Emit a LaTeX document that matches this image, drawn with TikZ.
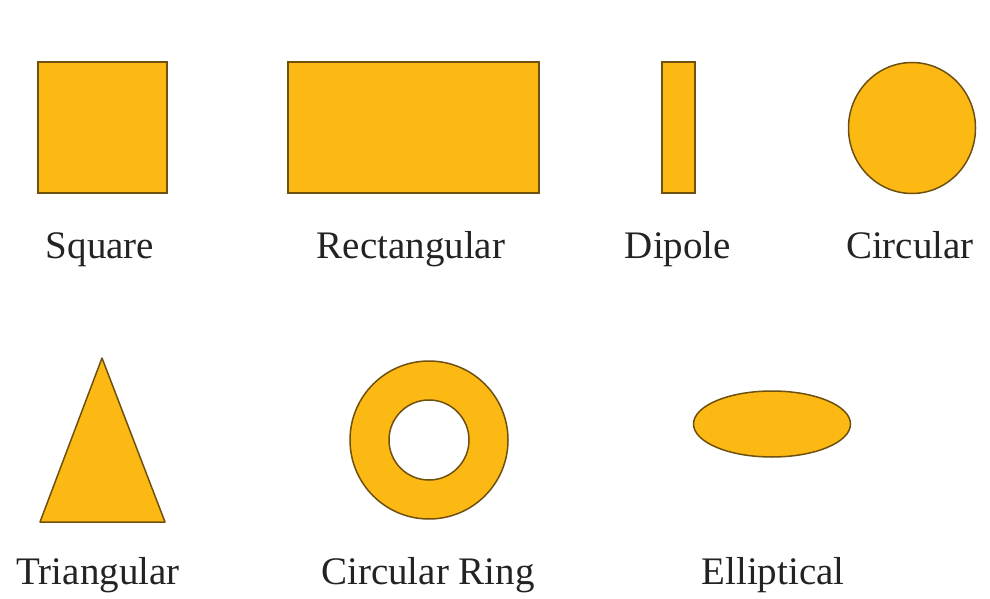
\documentclass[tikz,border=0pt]{standalone}
\usepackage{fontspec}
\setmainfont{Liberation Serif}
\usepackage{tikz}
\usetikzlibrary{shapes.geometric, positioning}

\definecolor{patch}{RGB}{253,185,19}
\definecolor{rim}{RGB}{110,80,15}
\definecolor{ink}{RGB}{35,35,35}

\begin{document}
\begin{tikzpicture}[
  x=1pt, y=-1pt,
  patchshape/.style={draw=rim, fill=patch, line width=1.5pt, inner sep=0pt},
  caption/.style={anchor=base, text=ink, font=\fontsize{39}{44}\selectfont, inner sep=0pt}
]
  \useasboundingbox (0,0) rectangle (990,599);

  % first row
  \node[patchshape, rectangle, minimum width=129pt, minimum height=131pt] (square) at (102.5,127.5) {};
  \node[patchshape, rectangle, minimum width=251pt, minimum height=131pt] (rect) at (413.5,127.5) {};
  \node[patchshape, rectangle, minimum width=33pt, minimum height=131pt] (dipole) at (678.5,127.5) {};
  \node[patchshape, ellipse, minimum width=127pt, minimum height=131pt] (circ) at (912,128) {};

  \node[caption] (lsquare) at (100,258) {Square};
  \node[caption] (lrect) at (411,258) {Rectangular};
  \node[caption] (ldipole) at (678,258) {Dipole};
  \node[caption] (lcirc) at (910,258) {Circular};

  % second row
  \draw[patchshape, line join=round] (102,358) -- (165,522) -- (40,522) -- cycle;
  \draw[patchshape, even odd rule] (429,440) circle (79) (429,440) circle (40);
  \node[patchshape, ellipse, minimum width=157pt, minimum height=66pt] (ellip) at (772,424) {};

  \node[caption] (ltri) at (98,584) {Triangular};
  \node[caption] (lring) at (428,584) {Circular Ring};
  \node[caption] (lellip) at (773,584) {Elliptical};
\end{tikzpicture}
\end{document}
